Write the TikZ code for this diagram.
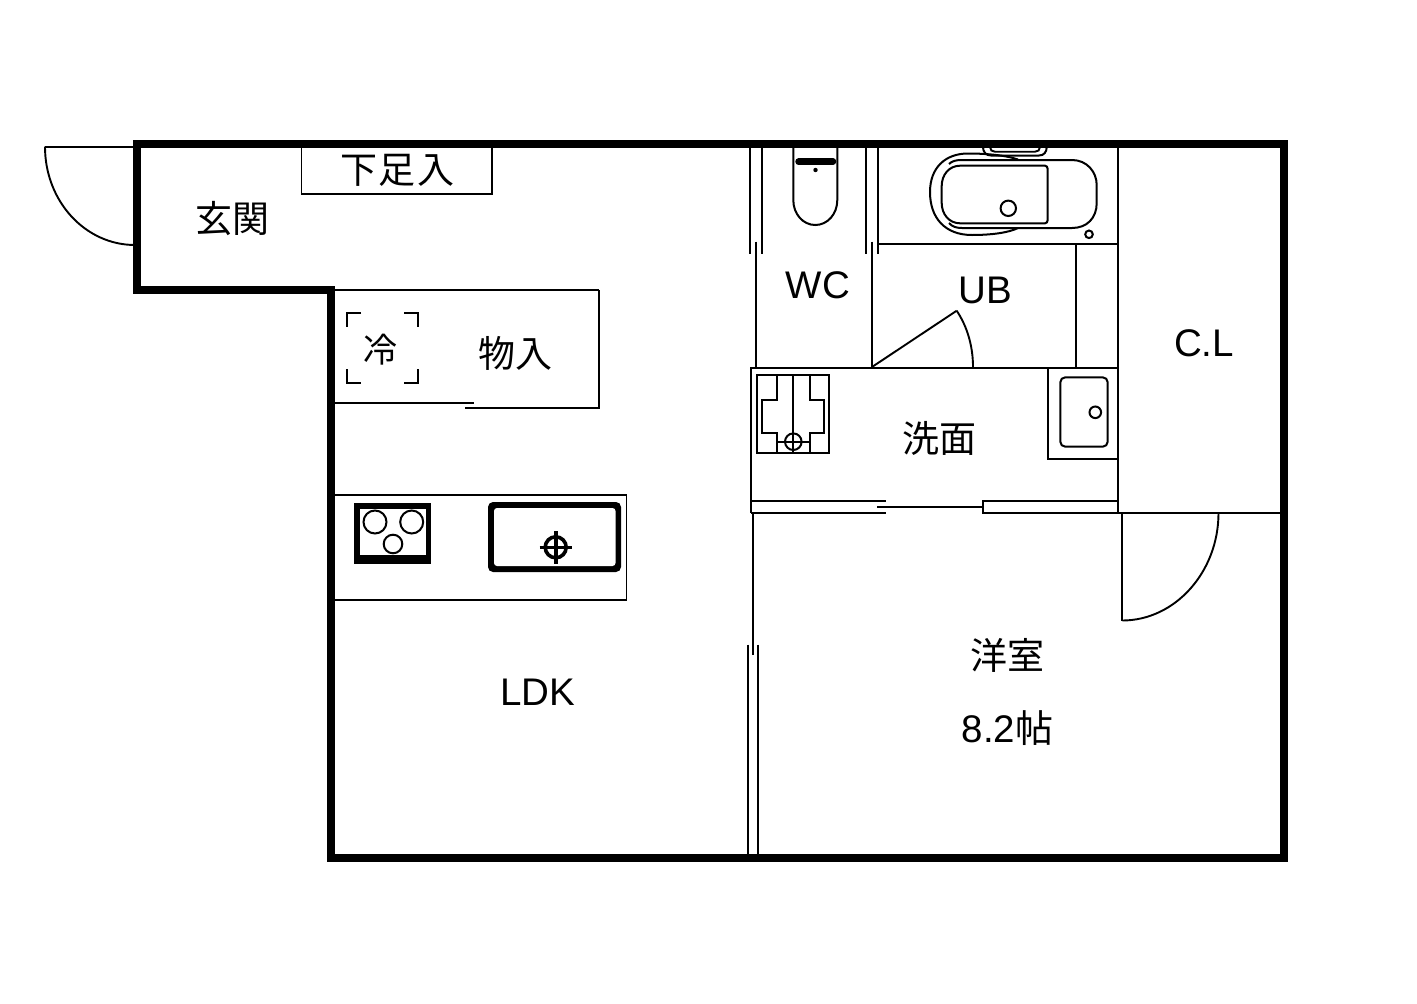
\documentclass[tikz,border=0pt]{standalone}
\usepackage{fontspec}
\setmainfont{Liberation Sans}
\newfontfamily\cjk{Noto Sans CJK JP}
\tikzset{
  wall/.style={line width=8pt,line join=miter},
  ln/.style={line width=2.3pt,line join=miter},
  thin line/.style={line width=1.9pt},
  fix/.style={line width=2pt},
  thickbar/.style={line width=6.5pt,line cap=round},
  lab/.style={inner sep=0pt,font=\fontsize{38.5}{38.5}\selectfont},
  jlab/.style={inner sep=0pt,font=\cjk\fontsize{37}{37}\selectfont},
}
\begin{document}
\begin{tikzpicture}[x=1pt,y=-1pt]
\useasboundingbox[fill=white] (0,0) rectangle (1417,1004);
% --- entry door
\draw[thin line] (137,146.7) -- (45,146.7);
\draw[thin line] (45,146.7) .. controls (45,201) and (85,245) .. (135,245);
% --- shoe cupboard
\draw[thin line] (301.5,147) -- (301.5,193.7) -- (492,193.7) -- (492,147);
% --- storage
\draw[ln] (334,290) -- (599,290);
\draw[thin line] (598.7,290) -- (598.7,408) -- (465,408);
\draw[ln] (334,402.7) -- (474,402.7);
\draw[thin line] (361,313) -- (347,313) -- (347,327);
\draw[thin line] (404,313) -- (418,313) -- (418,327);
\draw[thin line] (347,369) -- (347,383) -- (361,383);
\draw[thin line] (418,369) -- (418,383) -- (404,383);
% --- kitchen counter
\draw[ln] (334,495) -- (626.5,495);
\draw[thin line] (626.5,495) -- (626.5,600) -- (334,600);
% hob
\fill[black] (354,503) rectangle (431,563.5);
\fill[white] (359.5,508.5) rectangle (425.5,555);
\draw[fix] (375,522) circle[radius=11.5pt];
\draw[fix] (411.7,522) circle[radius=11.5pt];
\draw[fix] (393,544) circle[radius=9.3pt];
% sink
\fill[black,rounded corners=5pt] (488,502) rectangle (621,572);
\fill[white,rounded corners=3pt] (494,508) rectangle (615.5,566);
\draw[line width=3.6pt] (555.7,547.3) circle[radius=10.5pt];
\draw[line width=3.6pt] (539.5,547.3) -- (572,547.3);
\draw[line width=3.6pt] (555.7,531) -- (555.7,563.5);
% --- WC walls
\draw[fix] (750,147) -- (750,254);
\draw[ln] (761.7,147) -- (761.7,254);
\draw[ln] (755.7,241.7) -- (755.7,367);
\draw[fix] (866,147) -- (866,254);
\draw[ln] (878,147) -- (878,254);
\draw[ln] (872,241.7) -- (872,367);
% toilet
\draw[fix] (793.3,147) -- (793.3,200) .. controls (793.3,214) and (803,225) .. (815.3,225) .. controls (827.6,225) and (837.3,214) .. (837.3,200) -- (837.3,147);
\draw[thickbar] (798.5,161.7) -- (833,161.7);
\fill[black] (815.5,170) circle[radius=2.2pt];
% --- bath room lines
\draw[fix] (878,244.3) -- (1118,244.3);
\draw[fix] (1076,244.3) -- (1076,367);
\draw[ln] (1117.8,147) -- (1117.8,513);
\draw[ln] (751,367.7) -- (1118,367.7);
% bath door
\draw[thin line] (872,367) -- (956.7,310.7);
\draw[thin line] (956.7,310.7) .. controls (967.7,327.3) and (973,347) .. (973,367);
% tub
\draw[fix] (983,147) .. controls (983,152) and (986,155.5) .. (991,155.5) -- (1039,155.5) .. controls (1044,155.5) and (1046.7,152) .. (1046.7,147);
\draw[thin line] (990,147) .. controls (990,150) and (992,151.7) .. (995,151.7) -- (1035,151.7) .. controls (1038,151.7) and (1040,150) .. (1040,147);
\draw[fix] (1018,159.5) .. controls (1005,155) and (985,153.5) .. (968,153.5) .. controls (945,153.5) and (930,168) .. (930,192) .. controls (930,218) and (945,235) .. (972,235) .. controls (990,235) and (1008,233) .. (1018,228);
\draw[fix] (949,164) .. controls (952,161) and (956,160) .. (962,160) -- (1072,160) .. controls (1087,160) and (1096.7,172) .. (1096.7,185) -- (1096.7,203) .. controls (1096.7,218) and (1087,228) .. (1072,228) -- (962,228) .. controls (956,228) and (952,226.5) .. (949,223);
\draw[fix] (1047.7,169) .. controls (1047.7,167) and (1046.5,165.7) .. (1045,165.7) -- (960,165.7) .. controls (949,165.7) and (941.7,175) .. (941.7,186) -- (941.7,203) .. controls (941.7,214) and (949,223.3) .. (960,223.3) -- (1045,223.3) .. controls (1046.5,223.3) and (1047.7,222) .. (1047.7,220) -- cycle;
\draw[fix] (1008.3,208.3) circle[radius=7.7pt];
\draw[fix] (1089,234.3) circle[radius=3.8pt];
% --- washing machine pan
\draw[fix] (757.3,375) rectangle (829,452.5);
\draw[ln] (793.3,375) -- (793.3,453);
\draw[fix] (776.7,375) -- (776.7,400) -- (762.3,400) -- (762.3,433.3) -- (776.7,433.3) -- (776.7,452.5);
\draw[fix] (810,375) -- (810,400) -- (824,400) -- (824,433.3) -- (810,433.3) -- (810,452.5);
\draw[thin line] (776.7,442.3) -- (810,442.3);
\draw[fix] (793.3,441.7) circle[radius=8.3pt];
% --- wash basin
\draw[fix] (1047.7,367.7) -- (1047.7,459.3) -- (1118,459.3);
\draw[fix,rounded corners=5pt] (1060.3,377.3) rectangle (1107.7,446.7);
\draw[fix] (1095.3,412.3) circle[radius=5.8pt];
% --- wash room walls and sliding door
\draw[ln] (751.3,367) -- (751.3,512.7);
\draw[fix] (751,501) -- (885.7,501);
\draw[fix] (751,512.7) -- (885.7,512.7);
\draw[fix] (877.3,506.7) -- (983,506.7);
\draw[fix] (1118,501) -- (983.3,501) -- (983.3,512.7) -- (1118,512.7);
% --- closet
\draw[fix] (1118,512.7) -- (1281,512.7);
% bedroom door
\draw[thin line] (1122.3,513) -- (1122.3,620.5);
\draw[thin line] (1122.3,620.5) .. controls (1175,620.5) and (1218.5,572) .. (1218.5,513);
% --- LDK / bedroom wall
\draw[fix] (753.2,513) -- (753.2,655);
\draw[ln] (747.8,644.5) -- (747.8,855);
\draw[fix] (758.4,644.5) -- (758.4,855);
% --- outer wall
\draw[wall] (137,143.5) -- (1284,143.5) -- (1284,858) -- (330.5,858) -- (330.5,290) -- (137,290) -- cycle;
% --- labels
\node[jlab] (genkan) at (232,218.5) {玄関};
\node[jlab] (shoes) at (397,170.5) {下\kern1.5pt足\kern1.5pt入};
\node[jlab] (rei) at (380,350) {\fontsize{34}{34}\selectfont 冷};
\node[jlab] (mono) at (515,353) {物入};
\node[jlab] (senmen) at (939,438.5) {洗面};
\node[jlab] (yoshitsu) at (1007,655.5) {洋室};
\node[lab] (wc) at (818,285.5) {WC};
\node[lab] (ub) at (985,290) {UB};
\node[lab] (cl) at (1204,343) {C.L};
\node[lab] (ldk) at (538,692) {LDK};
\node[lab] (size) at (1007.5,728) {8.2{\cjk\fontsize{38}{38}\selectfont 帖}};
\end{tikzpicture}
\end{document}
